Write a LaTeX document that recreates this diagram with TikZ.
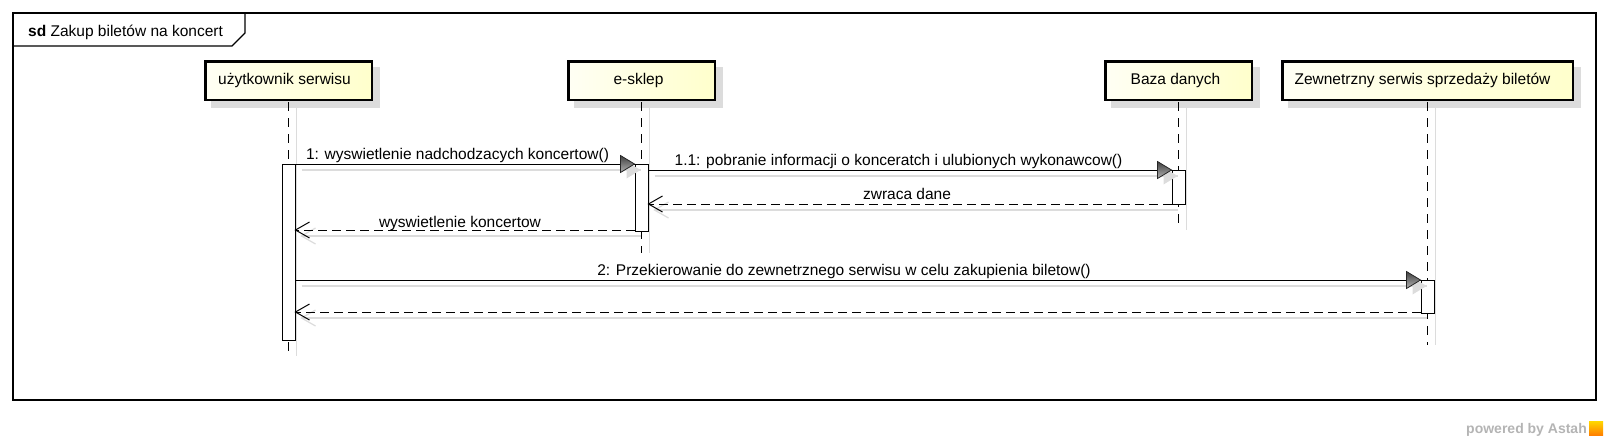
\documentclass[tikz,border=0pt]{standalone}
\usepackage{fontspec}
\setmainfont{Liberation Sans}
\usetikzlibrary{calc}
\definecolor{shad}{HTML}{DCDCDC}
\definecolor{headL}{HTML}{FFFFF4}
\definecolor{headR}{HTML}{FFFFCC}
\definecolor{astahgray}{HTML}{B4B4B4}
\begin{document}
\begin{tikzpicture}[x=1pt,y=-1pt,
  every node/.style={inner sep=0pt, font=\fontsize{15.5}{18}\selectfont},
  headbox/.style={draw=black, line width=2.5pt, left color=headL, right color=headR, rectangle, minimum height=38.5pt},
  lifeline/.style={draw=black, line width=1.2pt, dash pattern=on 9pt off 7pt},
  lifeshadow/.style={draw=shad, line width=1.5pt},
  actbox/.style={draw=black, fill=white, line width=1pt, minimum width=13pt, anchor=north},
  callmsg/.style={draw=black, line width=1pt},
  retmsg/.style={draw=black, line width=1pt, dash pattern=on 9pt off 5pt},
  msgshadow/.style={draw=shad, line width=1.2pt},
  lbl/.style={anchor=base},
  fillhead/.pic={\shadedraw[draw=black!85, line width=0.8pt, top color=black!75, bottom color=black!30] (0,0) -- (-14,-8.5) -- (-14,8.5) -- cycle;},
  ghosthead/.pic={\fill[shad] (0,0) -- (-14,-8.5) -- (-14,8.5) -- cycle;},
  openhead/.pic={\draw[line width=1pt] (14,-8) -- (0,0) -- (14,8);},
  ghostopen/.pic={\draw[shad, line width=1.2pt] (14,-8) -- (0,0) -- (14,8);},
]
\useasboundingbox (0,0) rectangle (1608,440);

% frame
\draw[line width=1.2pt] (13,13) rectangle (1596,400);
\draw[line width=1.2pt] (13,46) -- (232,46) -- (245,33) -- (245,13);
\node[anchor=base west] (title) at (28,36) {\textbf{sd} Zakup biletów na koncert};

% head shadows
\fill[shad] (211,67) rectangle (380,108);
\fill[shad] (574,67) rectangle (723,108);
\fill[shad] (1111,67) rectangle (1260,108);
\fill[shad] (1288,67) rectangle (1581,108);

% lifeline shadows
\draw[lifeshadow] (296.5,108) -- (296.5,356);
\draw[lifeshadow] (649.5,108) -- (649.5,253);
\draw[lifeshadow] (1186.5,108) -- (1186.5,230);
\draw[lifeshadow] (1435.5,108) -- (1435.5,345);

% heads
\node[headbox, minimum width=166.5pt] (u) at (288.5,80.5) {\kern-8pt użytkownik serwisu};
\node[headbox, minimum width=146.5pt] (e) at (641.5,80.5) {\kern-6pt e-sklep};
\node[headbox, minimum width=146.5pt] (b) at (1178.5,80.5) {\kern-6pt Baza danych};
\node[headbox, minimum width=290.5pt] (z) at (1427.5,80.5) {\kern-10pt Zewnetrzny serwis sprzedaży biletów};

% lifeline ends
\coordinate (uend) at (288.5,356);
\coordinate (eend) at (641.5,253);
\coordinate (bend) at (1178.5,230);
\coordinate (zend) at (1427.5,345);
\draw[lifeline] ([yshift=-1.25pt]u.south) -- (uend);
\draw[lifeline] ([yshift=-1.25pt]e.south) -- (eend);
\draw[lifeline] ([yshift=-1.25pt]b.south) -- (bend);
\draw[lifeline] ([yshift=-1.25pt]z.south) -- (zend);

% activations
\node[actbox, minimum height=176pt] (ua) at (288.5,164) {};
\node[actbox, minimum height=67pt] (ea) at (641.5,164) {};
\node[actbox, minimum height=34pt] (ba) at (1178.5,170) {};
\node[actbox, minimum height=33pt] (za) at (1427.5,280) {};

% message end points
\coordinate (m1s) at (ua.east |- 0,164);
\coordinate (m1e) at (ea.west |- 0,164);
\coordinate (m11s) at (ea.east |- 0,170);
\coordinate (m11e) at (ba.west |- 0,170);
\coordinate (r11s) at (ba.west |- 0,204);
\coordinate (r11e) at (ea.east |- 0,204);
\coordinate (r1s) at (ea.west |- 0,230);
\coordinate (r1e) at (ua.east |- 0,230);
\coordinate (m2s) at (ua.east |- 0,280);
\coordinate (m2e) at (za.west |- 0,280);
\coordinate (r2s) at (za.west |- 0,312);
\coordinate (r2e) at (ua.east |- 0,312);

% message shadows
\foreach \s/\t in {m1s/m1e, m11s/m11e, m2s/m2e}{
  \draw[msgshadow] ($(\s)+(6,6)$) -- ($(\t)+(6,6)$);
  \pic at ($(\t)+(6,6)$) {ghosthead};
}
\foreach \s/\t in {r11s/r11e, r1s/r1e, r2s/r2e}{
  \draw[msgshadow] ($(\s)+(6,6)$) -- ($(\t)+(6,6)$);
  \pic at ($(\t)+(6,6)$) {ghostopen};
}

% messages
\draw[callmsg] (m1s) -- (m1e);
\pic at (m1e) {fillhead};
\draw[callmsg] (m11s) -- (m11e);
\pic at (m11e) {fillhead};
\draw[retmsg] (r11s) -- (r11e);
\pic at (r11e) {openhead};
\draw[retmsg] (r1s) -- (r1e);
\pic at (r1e) {openhead};
\draw[callmsg] (m2s) -- (m2e);
\pic at (m2e) {fillhead};
\draw[retmsg] (r2s) -- (r2e);
\pic at (r2e) {openhead};

% labels
\node[lbl] (l1) at (457.5,159) {1: wyswietlenie nadchodzacych koncertow()};
\node[lbl] (l11) at (898.5,165) {1.1: pobranie informacji o konceratch i ulubionych wykonawcow()};
\node[lbl] (lr11) at (907,199) {zwraca dane};
\node[lbl] (lr1) at (460,227) {wyswietlenie koncertow};
\node[lbl] (l2) at (844,275) {2: Przekierowanie do zewnetrznego serwisu w celu zakupienia biletow()};

% powered by
\node[anchor=base east, text=astahgray, font=\fontsize{14}{16}\selectfont\bfseries] (pw) at (1587,433) {powered by Astah};
\shade[top color=yellow!70!orange, bottom color=orange] (1589,421) rectangle (1603,435);
\end{tikzpicture}
\end{document}
